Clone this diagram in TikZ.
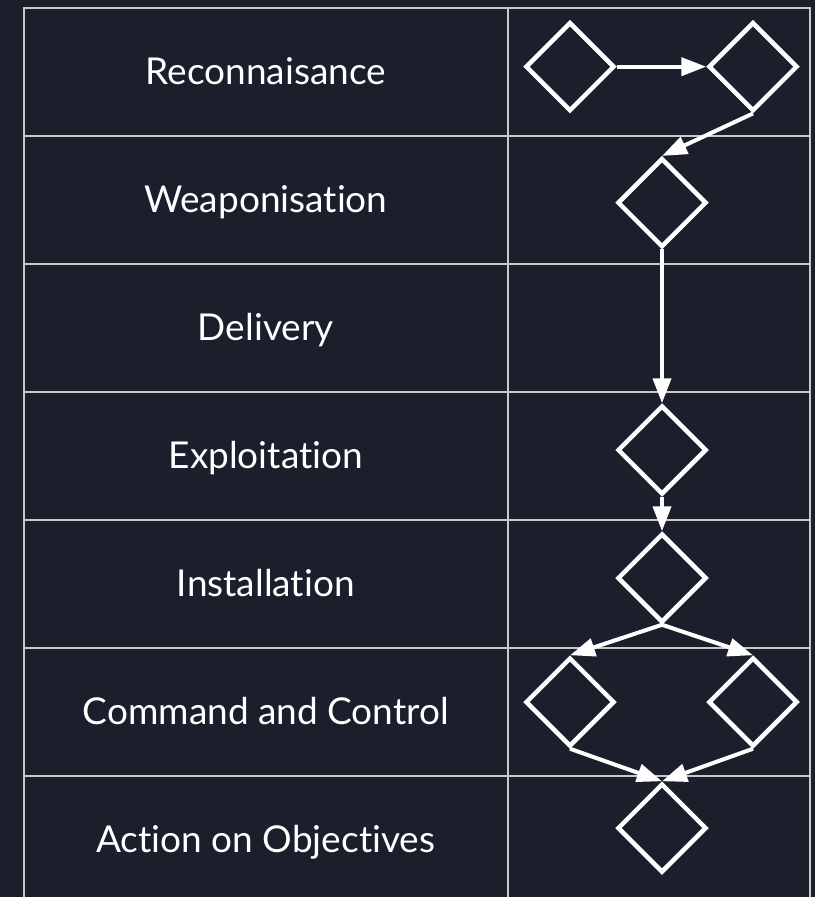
\documentclass[tikz,border=0pt]{standalone}
\usepackage{fontspec}
\setmainfont{Lato}[Ligatures={NoCommon,NoRequired,NoContextual}]
\usepackage{tikz}
\usetikzlibrary{arrows.meta}
\usetikzlibrary{shapes.geometric}

\definecolor{bgdark}{RGB}{27,31,43}
\definecolor{gridgray}{RGB}{200,200,200}

\begin{document}
\begin{tikzpicture}[x=1pt,y=-1pt,
		stage/.style={text=white,anchor=base,font=\fontsize{37}{44}\selectfont},
		step diamond/.style={diamond,draw=white,line width=4.5pt,minimum size=89pt,inner sep=0pt},
		flow/.style={draw=white,line width=4pt,-{Triangle[length=25pt,width=18pt]}}]
			\fill[bgdark] (0,0) rectangle (815,897);
			\useasboundingbox (0,0) rectangle (815,897);
			
			% table
			
			\foreach \i in {1,...,7} {
				\pgfmathsetmacro{\rowtop}{7.5 + (\i-1) * 128}
				\draw[gridgray,line width=2pt] (24,\rowtop) rectangle (507.5,\rowtop+128);
				\draw[gridgray,line width=2pt] (507.5,\rowtop) rectangle (810,\rowtop+128);
			}
			
			\foreach \txt [count=\i] in {Reconnaisance,Weaponisation,Delivery,Exploitation,Installation,Command and Control,Action on Objectives} {
				\pgfmathsetmacro{\rowbase}{84 + (\i-1) * 128}
				\node[stage] (L\i) at (265.8,\rowbase) {\txt};
			}
			
			% diamonds
			
			\node[step diamond] (R1) at (570,66.7) {};
			\node[step diamond] (R2) at (753,66.7) {};
			\node[step diamond] (W) at (662,202.7) {};
			\node[step diamond] (E) at (662,450) {};
			\node[step diamond] (I) at (662,578) {};
			\node[step diamond] (C1) at (570,702) {};
			\node[step diamond] (C2) at (753,702) {};
			\node[step diamond] (A) at (662,828) {};
			
			\draw[flow] (R1.east) -- (R2.west);
			\draw[flow] (R2.south) -- (W.north);
			\draw[flow] (W.south) -- (E.north);
			\draw[flow] (E.south) -- (I.north);
			\draw[flow] (I.south) -- (C1.north);
			\draw[flow] (I.south) -- (C2.north);
			\draw[flow] (C1.south) -- (A.north);
			\draw[flow] (C2.south) -- (A.north);
		\end{tikzpicture}
\end{document}
